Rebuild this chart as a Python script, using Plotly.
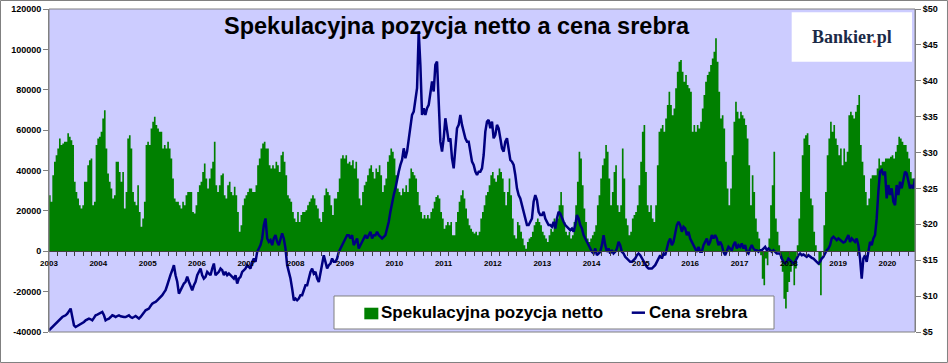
import pandas as pd
import plotly.graph_objects as go

# Net speculative position in silver (thousands of contracts), ~12-day spacing from Jan 2003
net_seg1 = [27.8, 24.5, 37.7, 44.3, 47.6, 50.9, 55.9, 52.6,
            53.4, 54.2, 54.2, 58.4, 56.7, 55.0, 52.6, 34.4, 29.4, 26.1,
            22.8, 21.2, 22.8, 34.4, 34.4, 42.6, 45.1, 46.0, 22.8, 24.5,
            52.6, 55.9, 56.7, 59.2, 65.8, 69.9, 50.9, 38.5, 34.4, 31.1,
            26.1, 27.8, 44.3, 44.3, 39.3, 34.4, 39.3, 21.2, 29.4, 55.9,
            57.5, 50.9, 29.4, 24.5, 22.8, 32.7, 19.5, 12.1, 16.2, 24.5,
            52.6, 54.2, 52.6, 60.8, 64.1, 66.6, 62.5, 60.8, 59.2, 59.2,
            50.9, 52.6, 50.9, 54.2, 50.9, 46.0, 36.0, 26.1, 24.5, 24.5,
            22.8, 21.2, 24.5, 22.8, 27.8, 29.4, 29.4]
net_seg2 = [29.4, 19.5, 18.7, 22.8, 29.4, 32.7, 34.4, 39.3, 43.5, 36.0,
            31.1, 36.0, 41.0, 44.3, 54.2, 32.7, 29.4, 32.7, 37.7, 38.5,
            27.8, 26.1, 32.7, 34.4, 29.4, 27.8, 31.9, 27.8, 19.5, 9.6,
            12.9, 22.8, 26.1, 27.8, 29.4, 31.1, 31.1, 29.4, 29.4, 32.7,
            42.6, 46.0, 50.9, 53.4, 54.2, 50.9, 50.9, 42.6, 41.0, 42.6,
            41.0, 44.3, 42.6, 39.3, 47.6, 49.3, 44.3, 37.7, 27.8, 26.1,
            24.5, 19.5, 16.2, 14.5, 19.5, 14.5, 17.9, 19.5, 19.5, 20.3,
            22.8, 24.5, 26.1, 27.8, 26.1, 22.8, 21.2, 16.2, 14.5, 19.5,
            27.8, 31.1, 29.4, 27.8, 22.8, 17.9, 26.1]
net_seg3 = [26.1, 29.4, 36.0, 46.0, 47.6, 46.0, 47.6, 43.5, 44.3, 42.6,
            45.1, 41.0, 44.3, 36.0, 26.1, 22.8, 29.4, 32.7, 34.4, 37.7,
            41.0, 42.6, 39.3, 36.0, 41.0, 39.3, 42.6, 37.7, 29.4, 32.7,
            36.0, 44.3, 47.6, 50.9, 49.3, 46.0, 37.7, 31.1, 29.4, 27.8,
            31.1, 29.4, 32.7, 29.4, 36.0, 41.0, 39.3, 37.7, 36.0, 29.4,
            22.8, 19.5, 16.2, 17.9, 16.2, 17.9, 16.2, 19.5, 21.2, 24.5,
            26.9, 27.8, 26.1, 19.5, 16.2, 11.2, 12.9, 14.5, 12.9, 14.5,
            7.9, 7.9, 14.5, 19.5, 24.5, 27.8, 30.2, 26.1, 21.2, 16.2,
            12.9, 11.2, 9.6, 8.8, 9.6, 7.9, 9.6]
net_seg4 = [16.2, 19.5, 22.8, 27.8, 29.4, 32.7, 37.7, 39.3, 36.0, 34.4,
            37.7, 41.0, 39.3, 36.0, 29.4, 22.8, 29.4, 36.0, 27.8, 16.2,
            7.9, 6.3, 14.5, 12.9, 9.6, 6.3, 3.0, 1.3, 4.6, 6.3,
            7.1, 9.6, 12.9, 14.5, 16.2, 14.5, 12.9, 9.6, 7.9, 6.3,
            4.6, 7.9, 11.2, 9.6, 16.2, 14.5, 16.2, 22.8, 29.4, 22.8,
            14.5, 9.6, 7.9, 9.6, 6.3, 7.9, 14.5, 22.8, 34.4, 49.3,
            46.0, 32.7, 21.2, 14.5, 6.3, 4.6, 6.3, 7.9, 9.6, 12.9,
            22.8, 27.8, 36.0, 42.6, 46.0, 52.6, 49.3, 36.0, 22.8, 29.4,
            39.3, 42.6, 22.8, 19.5, 22.8, 50.9, 36.0]
net_seg5 = [16.2, 12.9, 7.9, 9.6, 16.2, 17.9, 19.5, 22.8, 32.7, 44.3,
            59.2, 62.5, 39.3, 22.8, 19.5, 22.8, 16.2, 14.5, 22.8, 42.6,
            59.2, 60.8, 62.5, 59.2, 65.8, 72.4, 79.0, 72.4, 67.4, 70.7,
            80.7, 88.9, 93.9, 94.7, 88.9, 84.0, 87.3, 82.3, 80.7, 79.0,
            59.2, 62.5, 59.2, 62.5, 60.8, 64.1, 70.7, 77.4, 84.0, 87.3,
            88.9, 92.2, 95.5, 98.8, 105.5, 93.9, 79.0, 65.8, 67.4, 60.8,
            44.3, 31.1, 22.8, 31.1, 47.6, 64.1, 74.1, 69.1, 65.8, 69.1,
            67.4, 65.8, 62.5, 55.9, 42.6, 22.8, 37.7, 29.4, 16.2, 9.6,
            6.3, -2.0, -13.6, -16.9, -3.6, -6.9, 6.3]
net_seg6 = [22.8, 32.7, 49.3, 16.2, 9.6, 3.0, -3.6, -10.2, -23.5, -28.4,
            -20.2, -15.2, -10.2, -6.9, -16.9, -8.6, 3.0, 16.2, 29.4, 47.6,
            55.9, 57.5, 58.4, 52.6, 26.1, 22.8, 9.6, 3.0, -0.3, -6.9,
            -21.8, -0.3, 12.9, 29.4, 47.6, 55.9, 64.1, 59.2, 62.5, 55.9,
            52.6, 47.6, 50.9, 42.6, 50.9, 44.3, 49.3, 67.4, 69.1, 67.4,
            65.8, 69.1, 72.4, 77.4, 52.6, 44.3, 37.7, 29.4, 22.8, 26.1,
            36.0, 37.7, 37.7, 37.7, 41.0, 46.0, 42.6, 44.3, 44.3, 46.0,
            46.0, 46.0, 46.8, 47.6, 46.0, 49.3, 52.6, 56.7, 55.9, 54.2,
            52.6, 52.6, 49.3, 46.0, 39.3, 36.0, 36.0, 36.0]

# Silver price (USD/oz), same spacing
price_seg1 = [5.23, 5.47, 5.70, 5.93, 6.16, 6.40, 6.63, 6.86,
              7.09, 7.23, 7.33, 7.56, 8.02, 8.26, 7.09, 5.93, 5.70, 5.84,
              5.93, 6.02, 6.16, 6.40, 6.63, 6.77, 6.86, 6.77, 6.63, 6.96,
              7.33, 7.42, 7.56, 7.70, 7.79, 7.33, 6.63, 6.77, 6.86, 7.09,
              7.33, 7.23, 7.09, 7.23, 7.33, 7.19, 7.09, 7.09, 7.09, 7.23,
              7.33, 7.09, 6.96, 7.09, 7.23, 7.05, 6.86, 7.09, 7.33, 7.70,
              8.02, 8.16, 8.26, 8.63, 8.96, 9.10, 9.19, 9.42, 9.65, 9.89,
              10.12, 10.49, 10.82, 11.51, 12.45, 13.0, 13.6, 14.3, 12.9, 12.0,
              10.35, 10.82, 11.51, 11.75, 12.0, 12.7, 12.0]
price_seg2 = [11.28, 10.82, 11.51, 11.98, 12.91, 13.38, 13.84, 12.91, 12.45, 12.68,
              13.38, 13.14, 12.91, 13.84, 14.54, 12.91, 13.14, 13.38, 13.84, 13.61,
              12.91, 13.38, 12.91, 13.14, 12.91, 12.68, 12.45, 12.91, 11.75, 12.45,
              12.68, 13.38, 13.61, 13.84, 14.31, 14.07, 13.84, 14.77, 15.24, 14.77,
              16.17, 16.63, 17.10, 18.03, 19.89, 20.82, 18.03, 17.56, 17.80, 17.10,
              18.03, 18.49, 17.56, 17.10, 18.03, 18.73, 18.03, 16.63, 14.31, 13.38,
              12.45, 11.05, 9.42, 9.65, 9.42, 9.65, 10.12, 10.12, 10.82, 11.51,
              11.51, 12.45, 13.38, 13.84, 13.14, 13.38, 12.45, 11.98, 13.38, 14.31,
              15.70, 14.77, 13.84, 14.31, 14.54, 15.24, 14.77]
price_seg3 = [14.77, 15.24, 16.17, 16.63, 17.10, 17.56, 17.80, 18.49, 18.49, 18.03,
              18.49, 17.10, 17.56, 18.03, 16.63, 17.10, 17.56, 18.03, 18.49, 18.03,
              18.49, 18.96, 18.03, 18.49, 18.49, 18.96, 18.49, 18.26, 18.03, 18.26,
              18.49, 19.42, 20.35, 21.75, 23.15, 24.08, 25.01, 26.40, 27.34, 28.27,
              28.96, 30.59, 29.20, 30.13, 31.99, 33.38, 35.25, 35.71, 37.57, 38.97,
              46.90, 42.20, 35.25, 36.18, 35.25, 36.18, 36.64, 38.50, 39.90, 38.50,
              42.22, 42.69, 36.64, 31.52, 30.13, 31.99, 34.78, 32.92, 31.52, 31.99,
              29.20, 27.80, 31.06, 33.38, 33.85, 35.25, 33.85, 32.92, 31.99, 31.52,
              31.52, 30.13, 28.73, 28.27, 27.34, 26.87, 27.34]
price_seg4 = [27.34, 27.80, 29.66, 32.92, 34.31, 34.55, 33.38, 34.31, 31.99, 32.45,
              33.85, 33.38, 31.99, 30.59, 30.13, 31.52, 31.99, 30.59, 28.96, 28.73,
              28.27, 26.87, 25.01, 24.08, 23.61, 22.68, 21.75, 20.82, 19.89, 19.89,
              20.35, 20.82, 23.15, 24.08, 23.38, 21.75, 21.29, 21.29, 21.75, 20.82,
              20.35, 19.89, 19.89, 19.66, 20.35, 19.42, 20.82, 21.75, 21.52, 20.82,
              20.35, 19.89, 19.66, 19.42, 19.19, 19.42, 18.96, 19.89, 21.29, 20.82,
              19.89, 19.42, 18.49, 18.03, 17.56, 17.10, 16.63, 16.17, 15.94, 16.63,
              15.70, 15.94, 16.17, 17.10, 18.49, 17.10, 16.17, 16.63, 15.94, 16.40,
              15.94, 16.17, 16.63, 17.56, 17.10, 16.17, 15.94]
price_seg5 = [15.47, 15.24, 15.01, 14.77, 14.77, 15.01, 15.24, 15.70, 15.94, 15.70,
              15.24, 14.77, 14.54, 14.07, 13.84, 13.84, 13.84, 14.07, 14.31, 14.77,
              15.24, 15.70, 15.24, 15.94, 15.70, 16.63, 17.56, 18.03, 17.10, 17.56,
              18.96, 19.89, 20.35, 19.89, 18.96, 19.66, 19.42, 18.49, 18.96, 18.03,
              17.56, 17.10, 16.63, 16.17, 16.87, 16.17, 16.17, 17.10, 17.56, 18.03,
              17.10, 17.56, 18.49, 18.03, 18.49, 18.03, 17.10, 17.56, 17.10, 16.17,
              15.70, 16.17, 16.87, 16.63, 16.40, 17.10, 17.56, 16.63, 17.10, 16.87,
              17.33, 16.63, 17.10, 16.17, 15.94, 16.63, 17.10, 16.63, 16.40, 16.40,
              16.17, 16.40, 16.40, 16.63, 16.87, 16.40, 16.63]
price_seg6 = [16.40, 16.17, 16.40, 16.17, 15.94, 15.94, 15.94, 15.24, 14.77, 14.54,
              14.77, 15.24, 15.01, 14.77, 14.54, 14.77, 15.24, 15.70, 15.94, 15.70,
              15.80, 15.61, 15.47, 15.70, 15.47, 15.33, 15.24, 15.01, 14.77, 14.54,
              14.77, 15.24, 15.47, 15.94, 16.40, 16.63, 17.10, 18.03, 18.26, 18.03,
              17.80, 18.03, 17.80, 17.56, 17.47, 17.56, 18.03, 18.49, 17.56, 18.03,
              17.80, 17.56, 18.03, 17.10, 15.24, 12.45, 15.24, 15.70, 14.77, 16.17,
              17.56, 17.10, 18.03, 18.49, 20.82, 24.54, 27.34, 27.57, 26.87, 27.34,
              23.61, 25.47, 24.08, 25.01, 23.15, 22.68, 25.47, 24.08, 25.94, 25.01,
              26.40, 27.34, 27.10, 25.94, 25.01, 25.47, 25.01, 26.40]

left_tickvals = [-40000, -20000, 0, 20000, 40000, 60000, 80000, 100000, 120000]
left_ticktext = ["-40000", "-20000", "0", "20000", "40000", "60000", "80000", "100000", "120000"]
right_tickvals = [5, 10, 15, 20, 25, 30, 35, 40, 45, 50]
right_ticktext = ["$5", "$10", "$15", "$20", "$25", "$30", "$35", "$40", "$45", "$50"]

net = [v * 1000 for v in net_seg1 + net_seg2 + net_seg3 + net_seg4 + net_seg5 + net_seg6]
price = price_seg1 + price_seg2 + price_seg3 + price_seg4 + price_seg5 + price_seg6

n = max(len(net), len(price))
dates = pd.date_range("2003-01-01", periods=n, freq="296h")

FONT = "Arial, Liberation Sans, sans-serif"
GREEN = "#008000"
NAVY = "#000080"

fig = go.Figure()
fig.add_trace(go.Scatter(
    x=dates[:len(net)], y=net, mode="lines", name="Spekulacyjna pozycja netto",
    line=dict(width=0, color=GREEN, shape="hv"), fill="tozeroy", fillcolor=GREEN,
    yaxis="y", showlegend=False, hoverinfo="skip"))
fig.add_trace(go.Scatter(
    x=dates[:len(price)], y=price, mode="lines", name="Cena srebra",
    line=dict(width=2.5, color=NAVY), yaxis="y2", showlegend=False))

tickfont_y = dict(family=FONT, size=9, color="black", weight="bold")

fig.update_layout(
    width=948, height=363,
    margin=dict(l=49, r=33, t=9, b=31, autoexpand=False),
    paper_bgcolor="white", plot_bgcolor="#CCCCFF",
    showlegend=False,
    xaxis=dict(
        type="date", range=[dates[0], dates[n - 1]],
        anchor="free", position=0.25,
        tickformat="%Y", dtick="M12", tick0="2003-01-01",
        ticks="outside", ticklen=4, tickcolor="rgba(0,0,0,0)",
        showgrid=False, zeroline=False, showline=True, linecolor="#404040", linewidth=1,
        tickfont=dict(family=FONT, size=8, color="black", weight="bold"),
        minor=dict(ticks="outside", ticklen=4, tickcolor="#404040",
                   dtick=63 * 86400000, tick0="2003-01-01", showgrid=False),
    ),
    yaxis=dict(
        range=[-40000, 120000], tickvals=left_tickvals, ticktext=left_ticktext,
        ticks="outside", ticklen=5, tickcolor="#808080",
        showgrid=False, zeroline=False, showline=True, linecolor="#808080",
        tickfont=tickfont_y,
    ),
    yaxis2=dict(
        range=[5, 50], overlaying="y", side="right", anchor="x",
        tickvals=right_tickvals, ticktext=right_ticktext,
        ticks="outside", ticklen=5, tickcolor="#808080",
        showgrid=False, zeroline=False, showline=True, linecolor="#808080",
        tickfont=tickfont_y,
    ),
)

shapes = [
    # plot area border
    dict(type="rect", xref="paper", yref="paper", x0=0, x1=1, y0=0, y1=1,
         line=dict(color="#808080", width=1), layer="above"),
    # figure border
    dict(type="rect", xref="paper", yref="paper", x0=-0.0560, x1=1.0375, y0=-0.0944, y1=1.0263,
         line=dict(color="#808080", width=1), layer="above"),
    # legend box
    dict(type="rect", xref="paper", yref="paper", x0=0.3291, x1=0.8372, y0=0.0093, y1=0.1115,
         line=dict(color="#808080", width=1), fillcolor="white", layer="above"),
    dict(type="rect", xref="paper", yref="paper", x0=0.3641, x1=0.3803, y0=0.0393, y1=0.0752,
         line=dict(width=0), fillcolor=GREEN, layer="above"),
    dict(type="line", xref="paper", yref="paper", x0=0.6729, x1=0.6882, y0=0.0598, y1=0.0598,
         line=dict(color=NAVY, width=2.5), layer="above"),
    # logo box
    dict(type="rect", xref="paper", yref="paper", x0=0.8576, x1=0.9965, y0=0.8368, y1=0.9898,
         line=dict(width=0), fillcolor="white", layer="above"),
]
fig.update_layout(shapes=shapes)

annotations = [
    dict(text="Spekulacyjna pozycja netto a cena srebra", xref="paper", yref="paper",
         x=0.4717, y=0.9474, xanchor="center", yanchor="middle", showarrow=False,
         font=dict(family=FONT, size=23.5, color="black", weight="bold")),
    dict(text="Spekulacyjna pozycja netto", xref="paper", yref="paper",
         x=0.3816, y=0.0600, xanchor="left", yanchor="middle", showarrow=False,
         font=dict(family=FONT, size=17, color="black", weight="bold")),
    dict(text="Cena srebra", xref="paper", yref="paper",
         x=0.6905, y=0.0600, xanchor="left", yanchor="middle", showarrow=False,
         font=dict(family=FONT, size=17, color="black", weight="bold")),
    dict(text="Bankier<span style='color:#E8502A'>.</span>pl", xref="paper", yref="paper",
         x=0.9273, y=0.9118, xanchor="center", yanchor="middle", showarrow=False,
         font=dict(family="Liberation Serif, DejaVu Serif, serif", size=18, color="#1B2A47", weight="bold")),
]
fig.update_layout(annotations=annotations)

fig.write_html("out.html", config={"displayModeBar": False})

# remove the browser's default page margin so the figure sits at the window origin
with open("out.html", "r", encoding="utf-8") as f:
    html = f.read()
html = html.replace("<body>", '<body style="margin:0;padding:0;overflow:hidden;">', 1)
with open("out.html", "w", encoding="utf-8") as f:
    f.write(html)
